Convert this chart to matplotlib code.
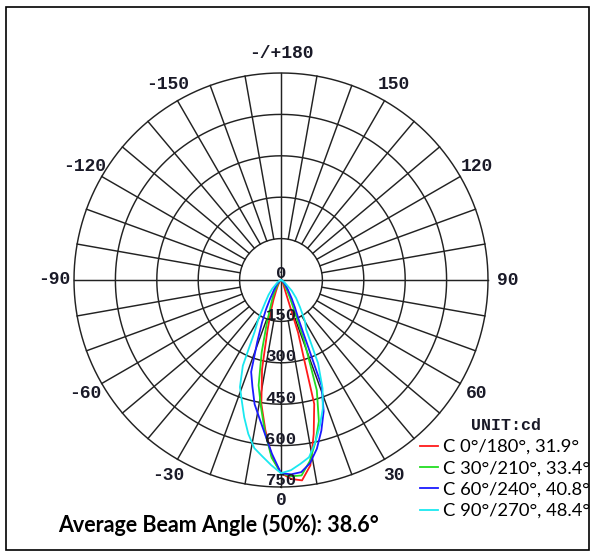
import numpy as np
import matplotlib
matplotlib.use('Agg')
import matplotlib.pyplot as plt
from matplotlib.patches import Rectangle

# ---- data (gamma angle in degrees, intensity in cd) ----
gamma = [-90, -60, -45, -40, -35, -30, -27, -24, -21, -18, -15, -12, -9, -6, -3,
         0, 3, 6, 9, 12, 15, 18, 21, 24, 27, 30, 35, 40, 45, 60, 90]
c0_180 = [0, 2, 5, 8, 12, 20, 30, 45, 75, 120, 190, 330, 455, 545, 640,
          700, 722, 730, 680, 570, 465, 200, 45, 28, 20, 14, 9, 6, 4, 2, 0]
c30_210 = [0, 3, 9, 14, 22, 40, 60, 80, 110, 168, 270, 390, 465, 555, 645,
           700, 712, 712, 665, 600, 530, 420, 230, 110, 70, 45, 25, 15, 10, 3, 0]
c60_240 = [0, 5, 18, 28, 45, 80, 120, 170, 240, 350, 400, 460, 505, 560, 630,
           700, 705, 700, 672, 625, 565, 500, 410, 160, 110, 78, 45, 28, 18, 5, 0]
c90_270 = [0, 12, 45, 70, 100, 165, 210, 340, 415, 460, 515, 570, 617, 643, 672,
           700, 690, 670, 650, 600, 545, 490, 420, 330, 200, 175, 120, 85, 55, 12, 0]

series_labels = ['C 0°/180°, 31.9°', 'C 30°/210°, 33.4°', 'C 60°/240°, 40.8°', 'C 90°/270°, 48.4°']
series_colors = ['#ff1a1a', '#22dd22', '#1a1aff', '#1ae8f0']
ring_values = [150, 300, 450, 600, 750]
radial_labels = [0, 150, 300, 450, 600, 750]
angle_ticks = [0, 30, 60, 90, 120, 150, 180, -150, -120, -90, -60, -30]
angle_texts = ['0', '30', '60', '90', '120', '150', '-/+180', '-150', '-120', '-90', '-60', '-30']
unit_text = 'UNIT:cd'
summary_text = 'Average Beam Angle (50%): 38.6°'

W, H = 595, 556
fig = plt.figure(figsize=(W / 100, H / 100), dpi=100)
cx, cy, R = 281, 280, 207
ax = fig.add_axes([(cx - R) / W, (H - cy - R) / H, 2 * R / W, 2 * R / H], projection='polar')
ax.set_theta_zero_location('S')
ax.set_theta_direction(1)
ax.set_ylim(0, 750)
ax.set_xticks([])
ax.set_yticks([])
ax.grid(False)
ax.spines['polar'].set_visible(False)

gridc = '#222222'
glw = 1.05
th = np.linspace(0, 2 * np.pi, 721)
for r in ring_values:
    ax.plot(th, np.full_like(th, r), color=gridc, lw=glw, clip_on=False, zorder=1)
for a in range(0, 360, 10):
    r0 = 0 if a % 90 == 0 else ring_values[0]
    ax.plot([np.deg2rad(a)] * 2, [r0, ring_values[-1]], color=gridc, lw=glw, clip_on=False, zorder=1)

g = np.deg2rad(gamma)
handles = []
for vals, col, lab in zip([c0_180, c30_210, c60_240, c90_270], series_colors, series_labels):
    ln, = ax.plot(g, vals, color=col, lw=1.3, label=lab, zorder=3)
    handles.append(ln)

mono = dict(family='Liberation Mono', weight='bold', color='#1a1a28')
for a, t in zip(angle_ticks, angle_texts):
    rr = 800 if a == 0 else 820
    ax.text(np.deg2rad(a), rr, t, ha='center', va='center', fontsize=13, clip_on=False, **mono)
for r in radial_labels:
    ax.annotate(str(r), xy=(0, r), xytext=(0, 1.2), textcoords='offset points',
                ha='center', va='baseline', fontsize=12.5, zorder=4, **mono)

leg = ax.legend(handles=handles, loc='upper left', bbox_to_anchor=(420 / W, 1 - 439 / H),
                bbox_transform=fig.transFigure, frameon=False,
                prop=dict(family='Lato', size=13.2), handlelength=1.0, handletextpad=0.25,
                labelspacing=0.29, borderpad=0, borderaxespad=0)

fig.text(506 / W, 1 - 425 / H, unit_text, ha='center', va='center', fontsize=12,
         family='Liberation Mono', weight='bold', color='#1a1a28')
fig.text(58 / W, 1 - 525 / H, summary_text, ha='left', va='center', fontsize=15.5,
         family='Lato', weight='bold', color='black')

fig.add_artist(Rectangle((6 / W, 1 - 550 / H), (589 - 6) / W, (550 - 7) / H,
                         transform=fig.transFigure, fill=False, ec='black', lw=1.2))

fig.savefig('out.png', dpi=100, facecolor='white')
